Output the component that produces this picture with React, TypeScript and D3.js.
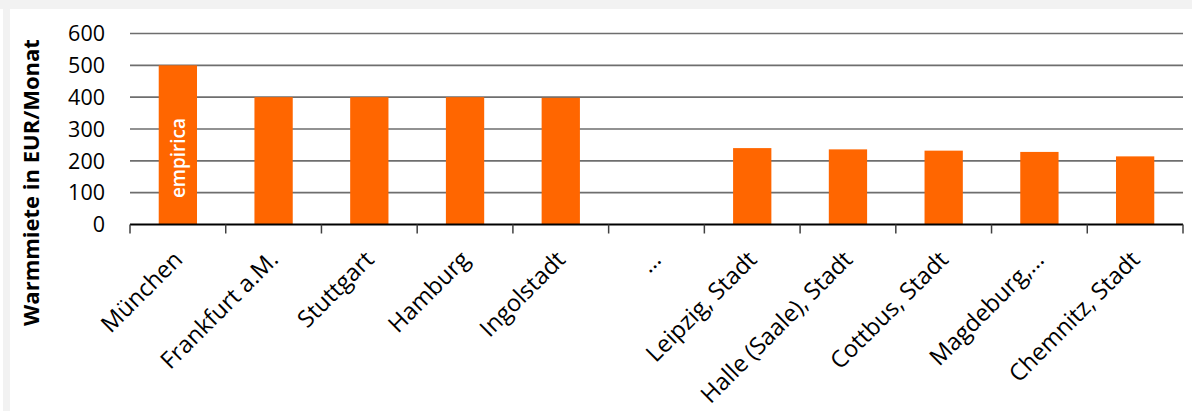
import React from 'react';
import * as d3 from 'd3';

const categories = [
  'München', 'Frankfurt a.M.', 'Stuttgart', 'Hamburg', 'Ingolstadt', '…',
  'Leipzig, Stadt', 'Halle (Saale), Stadt', 'Cottbus, Stadt', 'Magdeburg,…', 'Chemnitz, Stadt',
];
const values: (number | null)[] = [500, 400, 400, 400, 398, null, 240, 236, 232, 228, 214];
const yTicks = [0, 100, 200, 300, 400, 500, 600];

const W = 1192;
const H = 411;
const plot = { left: 130, right: 1183, top: 33.5, bottom: 224.5 };
const font = '"Open Sans", Lato, sans-serif';

export default function App() {
  const x = d3.scaleBand<string>()
    .domain(categories)
    .range([plot.left, plot.right])
    .paddingInner(0.6)
    .paddingOuter(0.3);
  const step = x.step();
  const y = d3.scaleLinear().domain([0, 600]).range([plot.bottom, plot.top]);

  // band edges for the tick marks
  const edges = d3.range(categories.length + 1).map(i => plot.left + i * step);

  return (
    <div style={{ position: 'absolute', left: 0, top: 0 }}>
      <svg width={W} height={H} viewBox={`0 0 ${W} ${H}`} style={{ display: 'block' }}>
        <rect x={0} y={0} width={W} height={H} fill="#f2f2f2" />
        <rect x={0} y={9} width={3} height={H} fill="#ffffff" />
        <rect x={10} y={9} width={W - 10} height={H - 9} fill="#ffffff" />

        {/* gridlines */}
        {yTicks.filter(t => t > 0).map(t => (
          <line key={t} x1={plot.left} x2={plot.right} y1={y(t)} y2={y(t)}
            stroke="#6e6e6e" strokeWidth={1.6} />
        ))}

        {/* bars */}
        {categories.map((c, i) => values[i] == null ? null : (
          <rect key={c} x={x(c)} y={y(values[i] as number)} width={x.bandwidth()}
            height={y(0) - y(values[i] as number)} fill="#ff6600" />
        ))}

        {/* watermark */}
        <text transform={`translate(${(x(categories[0]) as number) + x.bandwidth() / 2 + 7},${158}) rotate(-90)`}
          textAnchor="middle" fill="#ffffff" fontFamily={font} fontWeight={600} fontSize={19}>
          empirica
        </text>

        {/* x axis */}
        <line x1={plot.left} x2={plot.right} y1={plot.bottom} y2={plot.bottom} stroke="#000" strokeWidth={2} />
        {edges.map((e, i) => (
          <line key={i} x1={e} x2={e} y1={plot.bottom} y2={plot.bottom + 9} stroke="#404040" strokeWidth={1.5} />
        ))}
        {categories.map(c => {
          const cx = (x(c) as number) + x.bandwidth() / 2;
          return (
            <text key={c} transform={`translate(${cx + 6},${261}) rotate(-45)`}
              textAnchor="end" fill="#000" fontFamily={font} fontSize={23.5}>
              {c}
            </text>
          );
        })}

        {/* y tick labels */}
        {yTicks.map(t => (
          <text key={t} x={105} y={y(t)} dy="0.36em" textAnchor="end" fill="#000"
            fontFamily={font} fontSize={21.5}>
            {t}
          </text>
        ))}

        {/* y title */}
        <text transform={`translate(${38.5},${182.5}) rotate(-90)`} textAnchor="middle"
          fill="#000" fontFamily={font} fontWeight={700} fontSize={22}>
          Warmmiete in EUR/Monat
        </text>
      </svg>
    </div>
  );
}
